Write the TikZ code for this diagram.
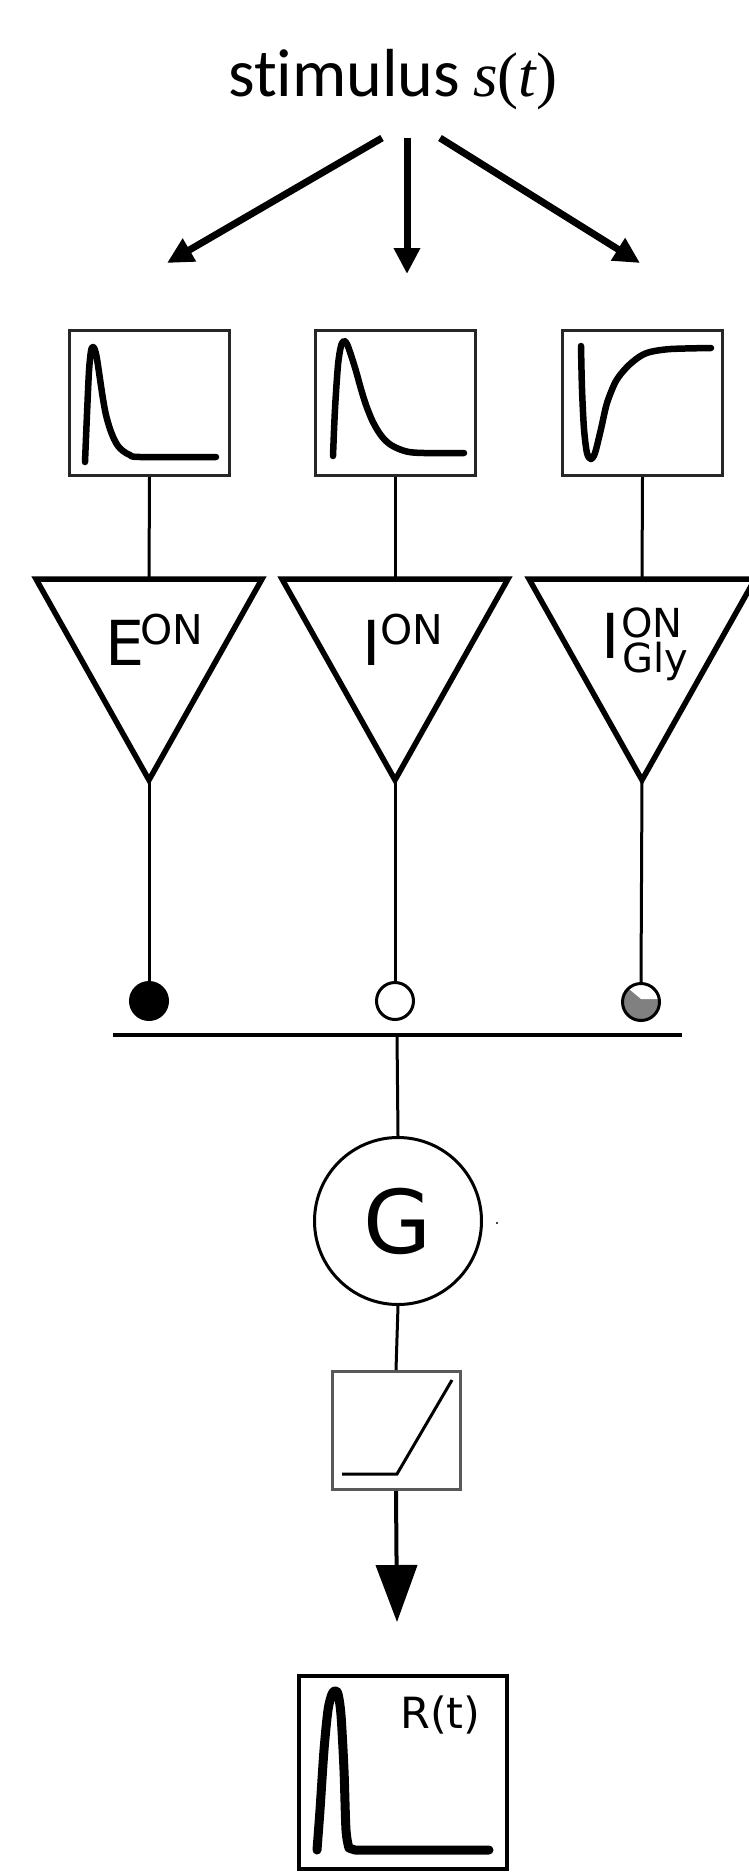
\documentclass[tikz,border=0pt]{standalone}
\usepackage{fontspec}
\setmainfont{Carlito}[Ligatures=NoCommon]
\newfontfamily\dejavu{DejaVu Sans}
\newfontfamily\tms{Liberation Serif}
\usetikzlibrary{arrows.meta}
\begin{document}
\begin{tikzpicture}[x=1pt,y=-1pt,
  sigbox/.style={draw=black!85, line width=3pt, minimum width=160pt, minimum height=145pt, inner sep=0pt},
  wire/.style={line width=3pt},
  bigarrow/.style={line width=7pt, -{Triangle[width=25pt,length=26pt]}},
  trace/.style={line width=6.5pt, line join=round, line cap=round},
  tri/.style={line width=5.5pt, line join=miter},
  syn/.style={circle, draw, line width=3pt, minimum size=37pt, inner sep=0pt},
  lbl/.style={anchor=base west, inner sep=0pt, font=\dejavu}
]
\useasboundingbox (0,0) rectangle (749,1873);
\clip (0,0) rectangle (749,1873);
\fill[white] (0,0) rectangle (749,1873);

% title
\node[anchor=base west, inner sep=0pt] (stim) at (228,97)
  {\fontsize{68}{72}\selectfont stimulus\hspace{13pt}{\tms\fontsize{63}{66}\selectfont\itshape s\upshape(\itshape t\upshape)}};

% top arrows
\coordinate (a1s) at (382,138); \coordinate (a1e) at (167,263);
\coordinate (a2s) at (407,138); \coordinate (a2e) at (407,274);
\coordinate (a3s) at (440,138); \coordinate (a3e) at (640,263);
\draw[bigarrow] (a1s) -- (a1e);
\draw[bigarrow] (a2s) -- (a2e);
\draw[bigarrow] (a3s) -- (a3e);

% kernel boxes
\node[sigbox] (k1) at (149.5,403) {};
\node[sigbox] (k2) at (395,403) {};
\node[sigbox] (k3) at (642.5,403) {};

\begin{scope}[shift={(68,329)}]
\draw[trace] plot[smooth, tension=0.5] coordinates {(17,133) (19,85) (21,42) (23,22) (25,18) (27,21) (29,30) (32,50) (35,70) (38,86) (42,100) (46,110) (50,117) (55,122) (62,126) (72,128) (148,128)};
\end{scope}
\begin{scope}[shift={(314,329)}]
\draw[trace] plot[smooth, tension=0.5] coordinates {(19,127) (21,80) (24,36) (27,17) (30,12) (33,15) (37,26) (42,42) (47,60) (52,76) (58,91) (64,102) (70,110) (77,116) (85,120) (95,123) (110,124) (150,124)};
\end{scope}
\begin{scope}[shift={(561,329)}]
\draw[trace] plot[smooth, tension=0.5] coordinates {(20,17) (21,60) (23,100) (26,124) (30,130) (34,124) (40,100) (46,74) (55,52) (66,38) (78,28) (89,23) (110,20) (150,19)};
\end{scope}

% triangles
\coordinate (t1top) at (149,579); \coordinate (t1apex) at (149,780);
\coordinate (t2top) at (395,579); \coordinate (t2apex) at (395,780);
\coordinate (t3top) at (642,579); \coordinate (t3apex) at (642,780);
\draw[tri] (36,579) -- (t1apex) -- (262,579) -- cycle;
\draw[tri] (282,579) -- (t2apex) -- (508,579) -- cycle;
\draw[tri] (529,579) -- (t3apex) -- (755,579) -- cycle;

\node[lbl] (l1) at (105,665) {\fontsize{62}{62}\selectfont E\kern-4pt\raisebox{21pt}{\fontsize{41}{41}\selectfont ON}};
\node[lbl] (l2) at (362,665) {\fontsize{62}{62}\selectfont I\raisebox{21pt}{\fontsize{41}{41}\selectfont ON}};
\node[lbl] (l3) at (601,658) {\fontsize{62}{62}\selectfont I\kern2pt\fontsize{40}{40}\selectfont\rlap{\raisebox{21pt}{\smash{ON}}}\kern1pt\raisebox{-14pt}{\smash{Gly}}};

\draw[wire] (k1.south) -- (t1top);
\draw[wire] (k2.south) -- (t2top);
\draw[wire] (k3.south) -- (t3top);

% synapses
\node[syn, fill=black] (s1) at (149,1001) {};
\node[syn, fill=white] (s2) at (395,1001) {};
\node[syn, fill=black!50, path picture={\fill[white] ([yshift=3pt]path picture bounding box.center) -- ++(0:22pt) arc[start angle=0, end angle=140, radius=22pt] -- cycle;}] (s3) at (641,1002) {};
\draw[wire] (t1apex) -- (s1.north);
\draw[wire] (t2apex) -- (s2.north);
\draw[wire] (t3apex) -- (s3.north);

% bar
\coordinate (barL) at (113,1035); \coordinate (barR) at (682,1035); \coordinate (barM) at (397,1035);
\draw[line width=4.5pt] (barL) -- (barR);

% G
\node[circle, draw, line width=3pt, minimum size=167pt, inner sep=0pt, font=\dejavu\fontsize{88}{88}\selectfont] (G) at (398,1221) {G};
\fill (497,1223) circle (1.2);
\draw[wire] (barM) -- (G.north);

% rectifier
\node[draw=black!65, line width=3pt, minimum width=128pt, minimum height=118pt, inner sep=0pt] (relu) at (396,1430.5) {};
\draw[line width=3pt] (342,1474) -- (397,1474) -- (452,1380);
\draw[wire] (G.south) -- (relu.north);
\coordinate (tip) at (397,1622);
\draw[line width=4pt, -{Triangle[width=41pt,length=57pt]}] (relu.south) -- (tip);

% response
\node[draw, line width=4pt, minimum width=208pt, minimum height=193pt, inner sep=0pt] (rbox) at (403,1772.5) {};
\node[lbl] (rt) at (400,1728) {\fontsize{43}{43}\selectfont R(t)};
\draw[line width=9pt, line join=round, line cap=round] plot[smooth, tension=0.5] coordinates {(317,1850) (320,1810) (324,1750) (328,1710) (332,1694) (335,1691) (338,1694) (341,1715) (344,1770) (346,1830) (349,1848)} -- (355,1850) -- (489,1850);
\end{tikzpicture}
\end{document}
